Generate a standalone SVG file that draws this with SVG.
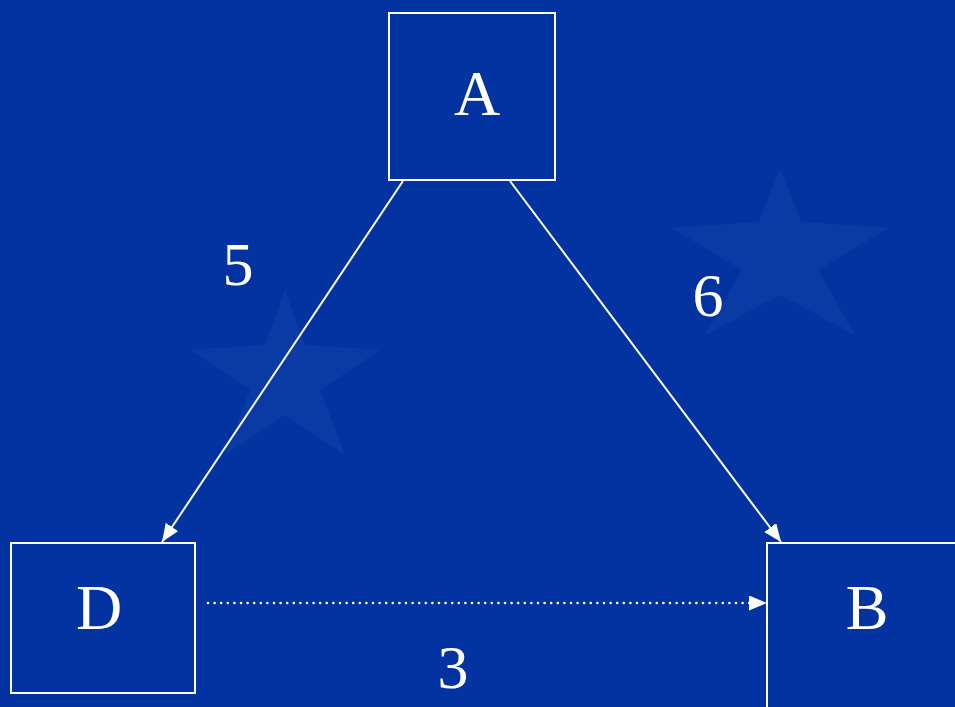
<svg xmlns="http://www.w3.org/2000/svg" width="955" height="707" viewBox="0 0 955 707">
<style>
.box{fill:none;stroke:#ffffff;stroke-width:2}
.lbl{font-family:"Liberation Serif","Times New Roman",serif;fill:#ffffff;text-anchor:middle}
.node{font-size:64px}
.w{font-size:62px}
.edge{stroke:#ffffff;stroke-width:2;fill:none}
</style>
<defs>
<marker id="ah" markerUnits="userSpaceOnUse" markerWidth="20" markerHeight="16" refX="18" refY="7.5" orient="auto">
<path d="M0,0 L18,7.5 L0,15 z" fill="#ffffff"/>
</marker>
</defs>
<rect x="0" y="0" width="955" height="707" fill="#0233a0"/>
<g id="background" fill="#3a6cc0" opacity="0.16">
<polygon points="780,168 801,222 888,228 818,270 855,335 780,295 705,335 742,270 672,228 759,222"/>
<polygon points="285,290 305,345 380,350 320,390 345,455 285,415 225,455 250,390 190,350 265,345"/>
</g>
<g id="connectors">
<line class="edge" x1="403" y1="181" x2="162" y2="542" marker-end="url(#ah)"/>
<line class="edge" x1="510" y1="181" x2="781" y2="542" marker-end="url(#ah)"/>
<line x1="208" y1="603" x2="750" y2="603" stroke="#ffffff" stroke-width="2.6" stroke-linecap="round" stroke-dasharray="0 6.6"/>
<line x1="750" y1="603" x2="767" y2="603" stroke="#ffffff" stroke-width="0.1" marker-end="url(#ah)"/>
<text class="lbl w" x="238" y="285">5</text>
<text class="lbl w" x="708" y="316">6</text>
<text class="lbl w" x="453" y="688">3</text>
</g>
<g id="nodeA">
<rect class="box" x="389" y="13" width="166" height="167"/>
<text class="lbl node" x="477" y="115">A</text>
</g>
<g id="nodeD">
<rect class="box" x="11" y="543" width="184" height="150"/>
<text class="lbl node" x="99" y="629">D</text>
</g>
<g id="nodeB">
<rect class="box" x="767" y="543" width="200" height="180"/>
<text class="lbl node" x="867" y="629">B</text>
</g>
</svg>
